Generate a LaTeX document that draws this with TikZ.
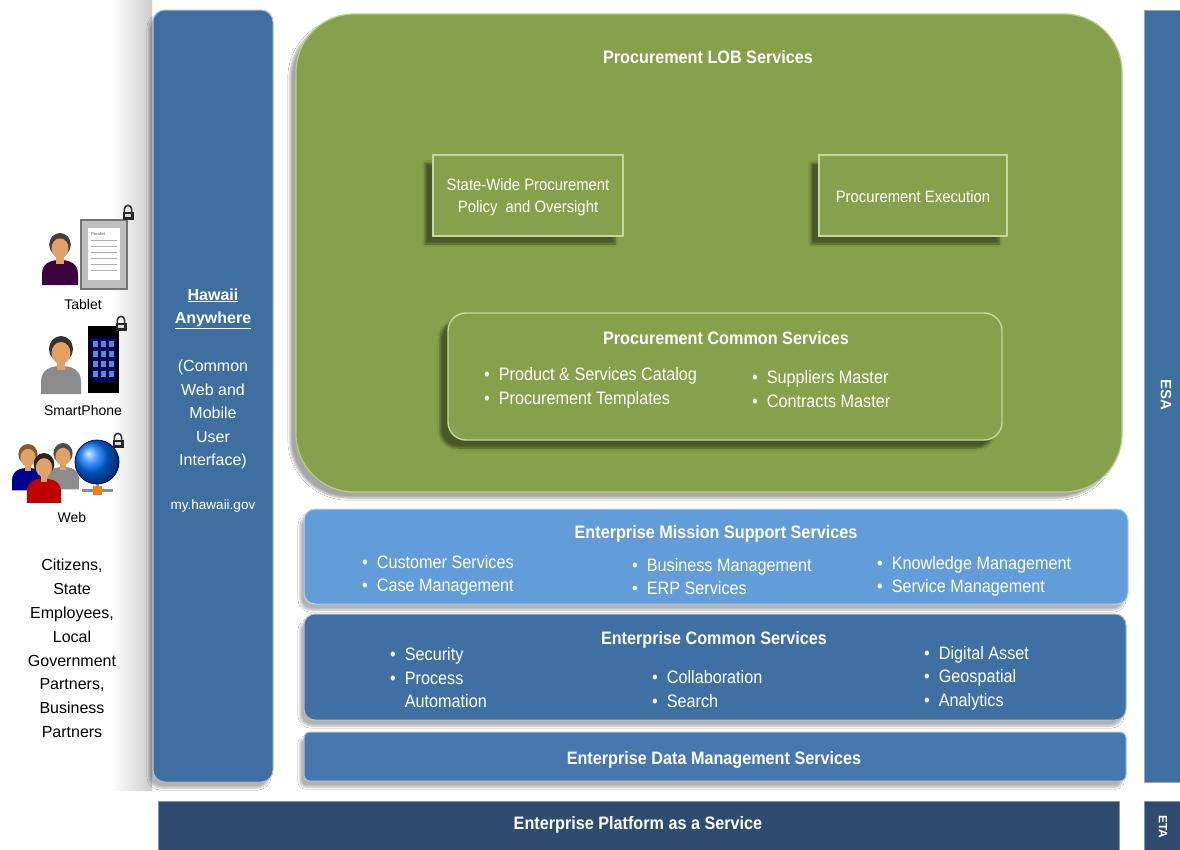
\documentclass[tikz,border=0pt]{standalone}
\usepackage{fontspec}
\setmainfont{Liberation Sans}
\newfontfamily\cond[FakeStretch=0.9]{Liberation Sans}
\usetikzlibrary{shadows.blur}

\definecolor{lobgreen}{RGB}{134,160,75}
\definecolor{lobedge}{RGB}{184,206,136}
\definecolor{colblue}{RGB}{62,111,160}
\definecolor{missblue}{RGB}{98,157,218}
\definecolor{commblue}{RGB}{64,112,163}
\definecolor{datablue}{RGB}{70,120,175}
\definecolor{platblue}{RGB}{46,76,111}
\definecolor{skin}{RGB}{226,160,100}

\newcommand\bul{\textbullet\hspace{0.5em}}
\newcommand\bulgap{\hphantom{\textbullet\hspace{0.5em}}}

% person icon: #1,#2 = top centre, #3 = scale, #4 = shirt colour, #5 = hair colour
\newcommand\personicon[5]{%
  \begin{scope}[shift={(#1,#2)},scale=#3]
    \fill[#4] (-20,58) -- (-20,46) .. controls (-20,33) and (-10,30) .. (0,30)
          .. controls (10,30) and (20,33) .. (20,46) -- (20,58) -- cycle;
    \fill[skin] (-4,26) rectangle (4,34);
    \fill[#5] (0,13) ellipse (12 and 13);
    \fill[skin] (0,17) ellipse (9.5 and 11);
  \end{scope}}

% padlock icon centred on #1,#2
\newcommand\padlock[2]{%
  \begin{scope}[shift={(#1,#2)}]
    \draw[line width=1.6pt,black!80] (-3.6,0) -- (-3.6,-3) arc (180:360:3.6) -- (3.6,0);
    \fill[black!85] (-5.5,-0.5) rectangle (5.5,8);
    \fill[white!85!black] (-3,2) rectangle (3,5);
  \end{scope}}

\tikzset{
  shell/.style={draw=lobedge, line width=1.2pt, fill=lobgreen, rounded corners=58pt,
    blur shadow={shadow xshift=-6pt, shadow yshift=-6pt, shadow blur steps=10, shadow opacity=35}},
  gbox/.style={draw=lobedge!80!white, line width=1.4pt, fill=lobgreen,
    blur shadow={shadow xshift=-8pt, shadow yshift=-8pt, shadow blur steps=10, shadow opacity=45}},
  band/.style={draw=white!55!#1, line width=1pt, fill=#1, rounded corners=11pt,
    blur shadow={shadow xshift=-4pt, shadow yshift=-6pt, shadow blur steps=10, shadow opacity=30}},
  flatbar/.style={fill=#1, draw=white!40!#1, line width=0.8pt},
  ttl/.style={text=white, font=\cond\bfseries\fontsize{18}{23}\selectfont, inner sep=0pt},
  lbl/.style={text=white, font=\cond\fontsize{16.5}{22}\selectfont, inner sep=0pt, align=center},
  itm/.style={text=white, font=\cond\fontsize{18}{23.5}\selectfont, inner sep=0pt, align=left, anchor=west},
  sidetxt/.style={text=black, font=\fontsize{16}{23.8}\selectfont, inner sep=0pt, align=center},
  devtxt/.style={text=black, font=\fontsize{14}{17}\selectfont, inner sep=0pt},
  coltxt/.style={text=white, font=\fontsize{16}{23.6}\selectfont, inner sep=0pt, align=center},
}

\begin{document}
\begin{tikzpicture}[x=1pt,y=-1pt]
\useasboundingbox (0,0) rectangle (1180,849);
\fill[white] (0,0) rectangle (1180,849);

% soft grey edge behind the user-interface column
\shade[left color=white, right color=black!20] (112,0) rectangle (152,790);

% ---------- access channels ----------
\personicon{60}{233}{0.9}{violet!45!black}{black!75}
\fill[black!55] (80,219) rectangle (128,290);
\fill[black!25] (82,221) rectangle (126,288);
\fill[white] (88,228) rectangle (120,280);
\foreach \yy in {240,246,252,258,264,270} \draw[black!30, line width=0.6pt] (91,\yy) -- (117,\yy);
\node[font=\fontsize{4}{4}\selectfont, text=black!70, inner sep=0pt] (ptxt) at (98,234) {Parallel};
\padlock{128}{212}
\node[devtxt] (tablet) at (83,304) {Tablet};

\personicon{61}{336}{1.0}{black!45}{black!80}
\fill[black] (88,326) rectangle (119,393);
\fill[blue!35!black] (91,337) rectangle (116,382);
\foreach \xx in {93,101,109} \foreach \yy in {341,351,361,371}
  \fill[cyan!50!blue!70] (\xx,\yy) rectangle ++(5,6);
\padlock{121}{323}
\node[devtxt] (phone) at (83,410) {SmartPhone};

\personicon{28}{444}{0.8}{blue!55!black}{brown!70!black}
\personicon{63}{443}{0.8}{black!45}{black!70}
\personicon{44}{453}{0.86}{red!75!black}{black!85}
\fill[black!45] (82,489) rectangle (113,492);
\fill[black!40] (96,482) rectangle (99,490);
\fill[orange] (93,486) rectangle (102,495);
\shade[ball color=blue!55!cyan] (97,462) circle (22);
\draw[blue!60!black, line width=0.8pt] (97,462) circle (22);
\padlock{118}{440}
\node[devtxt] (web) at (72,517) {Web};

\node[sidetxt] (users) at (72,648.5) {Citizens,\\State\\Employees,\\Local\\Government\\Partners,\\Business\\Partners};

% ---------- common web and mobile user interface ----------
\node[band=colblue, rounded corners=12pt, minimum width=120pt, minimum height=772pt] (hawaii) at (213,396) {};
\node[coltxt, font=\bfseries\fontsize{16}{23}\selectfont] (hawT) at (213,308.5) {\underline{Hawaii}\\\underline{Anywhere}};
\node[coltxt] (hawS) at (213,414.5) {(Common\\Web and\\Mobile\\User\\Interface)};
\node[coltxt, font=\fontsize{13.5}{16}\selectfont] (hawU) at (213,506) {my.hawaii.gov};

% ---------- procurement line of business ----------
\node[shell, minimum width=826pt, minimum height=478pt] (lob) at (709,253) {};
\node[ttl] (lobT) at (708,57) {Procurement LOB Services};

\node[gbox, minimum width=190pt, minimum height=81pt] (swp) at (528,195.5) {};
\node[lbl] (swpT) at (528,197) {State-Wide Procurement\\Policy\ \ and Oversight};

\node[gbox, minimum width=188pt, minimum height=81pt] (pex) at (913,195.5) {};
\node[lbl] (pexT) at (913,197) {Procurement Execution};

\node[gbox, rounded corners=18pt, minimum width=554pt, minimum height=127pt] (pcs) at (725,376.5) {};
\node[ttl] (pcsT) at (726,338) {Procurement Common Services};
\node[itm] (pcs1) at (484,388) {\bul Product \& Services Catalog\\\bul Procurement Templates};
\node[itm] (pcs2) at (752,389) {\bul Suppliers Master\\\bul Contracts Master};

% ---------- enterprise service layers ----------
\node[band=missblue, minimum width=824pt, minimum height=95pt] (ems) at (716,556.5) {};
\node[ttl] (emsT) at (716,534) {Enterprise Mission Support Services};
\node[itm] (ems1) at (362,575.5) {\bul Customer Services\\\bul Case Management};
\node[itm] (ems2) at (632,576.5) {\bul Business Management\\\bul ERP Services};
\node[itm] (ems3) at (877,576.5) {\bul Knowledge Management\\\bul Service Management};

\node[band=commblue, minimum width=822pt, minimum height=106pt] (ecs) at (715,667) {};
\node[ttl] (ecsT) at (714,640) {Enterprise Common Services};
\node[itm] (ecs1) at (390,678) {\bul Security\\\bul Process\\\bulgap Automation};
\node[itm] (ecs2) at (652,689) {\bul Collaboration\\\bul Search};
\node[itm] (ecs3) at (924,678) {\bul Digital Asset\\\bul Geospatial\\\bul Analytics};

\node[band=datablue, rounded corners=6pt, minimum width=822pt, minimum height=49pt] (edm) at (715,756.5) {};
\node[ttl] (edmT) at (714,760) {Enterprise Data Management Services};

\node[flatbar=platblue, minimum width=961pt, minimum height=56pt, inner sep=0pt] (plat) at (638.5,829) {};
\node[ttl] (platT) at (638,825) {Enterprise Platform as a Service};

% ---------- architecture side bars ----------
\node[flatbar=colblue, minimum width=44pt, minimum height=772pt, inner sep=0pt] (esa) at (1166,396) {};
\node[ttl, font=\bfseries\fontsize{15}{16}\selectfont, rotate=-90] (esaT) at (1166,395) {ESA};
\node[flatbar=platblue, minimum width=44pt, minimum height=56pt, inner sep=0pt] (eta) at (1166,829) {};
\node[ttl, font=\bfseries\fontsize{12}{14}\selectfont, rotate=-90] (etaT) at (1163,827) {ETA};
\end{tikzpicture}
\end{document}
